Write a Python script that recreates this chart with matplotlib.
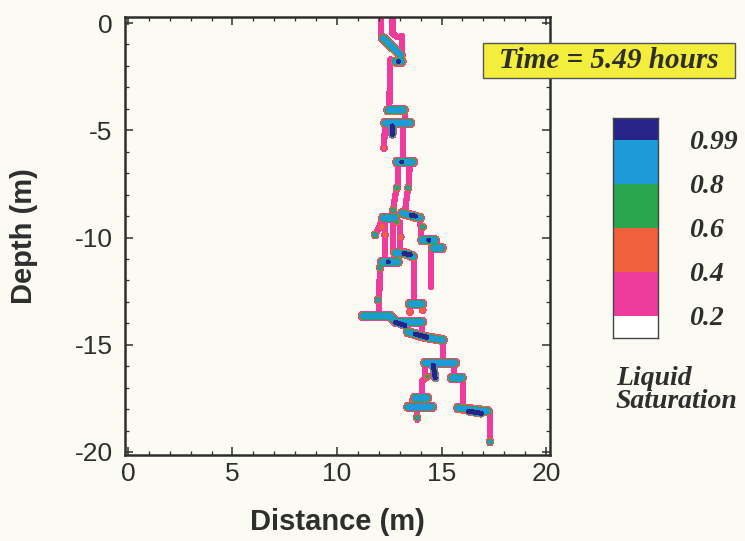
import numpy as np
import matplotlib
matplotlib.use('Agg')
import matplotlib.pyplot as plt
from matplotlib.patches import Rectangle
from matplotlib.ticker import MultipleLocator

plt.rcParams['axes.unicode_minus'] = False

# saturation classes (lower bounds) and their fill colours
levels = [0.2, 0.4, 0.6, 0.8, 0.99]
level_colors = ['#ee3c9c', '#ef613c', '#28a74f', '#1f9ad8', '#262489']
level_labels = ['0.2', '0.4', '0.6', '0.8', '0.99']
time_label = 'Time = 5.49 hours'

# finger centre lines (distance m, depth m), low saturation
finger_paths = [
    [(12.10, 0.30), (12.10, -0.70)],
    [(12.65, 0.30), (12.65, -0.50), (12.90, -0.65)],
    [(13.10, -0.60), (13.10, -1.90)],
    [(12.55, -1.70), (12.50, -4.06)],
    [(13.25, -4.06), (13.25, -4.50)],
    [(12.30, -4.70), (12.25, -5.75)],
    [(13.15, -4.70), (13.15, -6.45)],
    [(12.92, -6.50), (12.92, -7.65)],
    [(13.47, -6.50), (13.45, -7.65)],
    [(12.85, -7.70), (12.68, -8.72)],
    [(13.40, -7.70), (13.25, -8.80)],
    [(12.20, -9.10), (11.85, -9.85)],
    [(12.30, -9.10), (12.30, -11.10)],
    [(12.68, -9.30), (12.68, -10.70)],
    [(13.01, -9.30), (13.01, -10.60)],
    [(13.97, -9.09), (14.05, -10.10)],
    [(14.69, -10.12), (14.69, -10.49)],
    [(14.50, -10.58), (14.50, -12.31)],
    [(13.68, -10.80), (13.68, -13.10)],
    [(12.06, -11.10), (12.00, -13.66)],
    [(13.49, -13.10), (13.49, -13.45)],
    [(14.07, -13.10), (14.07, -13.40)],
    [(14.07, -13.94), (14.07, -14.40)],
    [(15.07, -14.78), (15.07, -15.71)],
    [(14.21, -15.90), (14.21, -16.60), (14.07, -16.70), (14.07, -17.44)],
    [(15.60, -15.90), (15.60, -16.50)],
    [(16.03, -16.60), (16.03, -17.85)],
    [(17.32, -18.10), (17.32, -19.44)],
    [(13.80, -17.50), (13.85, -18.50)],
]

# high-saturation lenses on layer boundaries
lens_paths = [
    [(12.20, -0.70), (13.05, -1.50)],
    [(12.80, -1.80), (13.10, -1.80)],
    [(12.45, -4.06), (13.20, -4.06)],
    [(12.30, -4.66), (13.50, -4.66)],
    [(12.87, -6.48), (13.64, -6.48)],
    [(13.11, -8.86), (13.97, -9.09)],
    [(12.20, -9.09), (12.78, -9.09)],
    [(14.07, -10.12), (14.69, -10.12)],
    [(14.59, -10.49), (15.02, -10.49)],
    [(12.78, -10.72), (13.35, -10.75), (13.64, -10.90)],
    [(12.15, -11.14), (12.92, -11.14)],
    [(13.49, -13.10), (14.07, -13.10)],
    [(11.24, -13.66), (12.55, -13.66), (12.80, -13.94), (14.07, -13.94)],
    [(13.40, -14.41), (14.21, -14.64), (15.07, -14.78)],
    [(14.21, -15.85), (15.65, -15.85)],
    [(15.50, -16.55), (15.98, -16.55)],
    [(15.79, -17.95), (17.22, -18.10)],
    [(13.73, -17.48), (14.31, -17.48)],
    [(13.40, -17.90), (14.55, -17.90)],
]

# fully saturated cores
core_paths = [
    [(12.95, -1.80)],
    [(12.65, -4.80), (12.65, -5.20)],
    [(13.10, -6.48)],
    [(13.55, -8.97), (13.75, -9.00)],
    [(14.40, -10.12)],
    [(13.20, -10.74), (13.50, -10.80)],
    [(12.45, -11.14)],
    [(12.80, -13.95), (13.25, -14.10)],
    [(13.75, -14.50), (14.30, -14.65)],
    [(14.60, -15.95), (14.70, -16.55)],
    [(16.30, -18.10), (16.90, -18.20)],
]

# small drops: x, y, peak saturation
blob_x = [12.87, 12.25, 12.87, 13.40, 12.68, 12.87, 11.82, 12.15, 12.30, 13.05,
          14.11, 12.06, 11.96, 13.49, 14.10, 14.31, 17.32, 13.83, 13.60]
blob_y = [-4.66, -5.83, -7.69, -7.69, -8.72, -9.28, -9.88, -9.51, -9.88, -9.98,
          -9.51, -11.42, -12.91, -13.47, -13.38, -16.50, -19.53, -18.41, -17.60]
blob_peak = [0.90, 0.50, 0.85, 0.85, 0.85, 0.75, 0.90, 0.60, 0.55, 0.55,
             0.85, 0.85, 0.90, 0.60, 0.60, 0.70, 0.90, 0.85, 0.50]


def path_dist(X, Y, path):
    pts = np.asarray(path, float)
    if len(pts) == 1:
        return np.hypot(X - pts[0, 0], Y - pts[0, 1])
    d = np.full(X.shape, np.inf)
    for (x0, y0), (x1, y1) in zip(pts[:-1], pts[1:]):
        dx, dy = x1 - x0, y1 - y0
        t = np.clip(((X - x0) * dx + (Y - y0) * dy) / (dx * dx + dy * dy), 0, 1)
        d = np.minimum(d, np.hypot(X - (x0 + t * dx), Y - (y0 + t * dy)))
    return d


def bump(d, peak, w):
    return peak * np.clip(1 - (d / w) ** 2, 0, None)


gx = np.arange(10.5, 18.5, 0.015)
gy = np.arange(-20.1, 0.3, 0.015)
X, Y = np.meshgrid(gx, gy)
S = np.zeros_like(X)
for p in finger_paths:
    S = np.maximum(S, bump(path_dist(X, Y, p), 0.36, 0.19))
for p in lens_paths:
    S = np.maximum(S, bump(path_dist(X, Y, p), 0.97, 0.24))
for p in core_paths:
    S = np.maximum(S, bump(path_dist(X, Y, p), 1.30, 0.19))
for bx, by, bp in zip(blob_x, blob_y, blob_peak):
    S = np.maximum(S, bump(np.hypot(X - bx, Y - by), bp, 0.20))

bg = '#fbfbf4'
ink = '#2e2e2e'
fig = plt.figure(figsize=(7.45, 5.41), dpi=100, facecolor=bg)
ax = fig.add_axes([125 / 745, 1 - 455 / 541, 425 / 745, 438 / 541], facecolor=bg)

ax.contourf(X, Y, S, levels=levels + [5.0], colors=level_colors)

ax.set_xlim(-0.14, 20.19)
ax.set_ylim(-20.14, 0.28)
ax.xaxis.set_major_locator(MultipleLocator(5))
ax.yaxis.set_major_locator(MultipleLocator(5))
ax.xaxis.set_minor_locator(MultipleLocator(1))
ax.yaxis.set_minor_locator(MultipleLocator(1))
ax.tick_params(which='both', direction='in', top=True, right=True, color=ink)
ax.tick_params(which='major', length=6, width=1.1, labelsize=19, labelcolor=ink)
ax.tick_params(which='minor', length=3, width=0.9)
ax.tick_params(axis='x', pad=5)
ax.tick_params(axis='y', pad=9)
for lab in ax.get_xticklabels() + ax.get_yticklabels():
    lab.set_family('Liberation Sans')
for sp in ax.spines.values():
    sp.set_color(ink)
    sp.set_linewidth(1.8)

ax.set_xlabel('Distance (m)', fontsize=21, fontweight='bold', color=ink,
              family='Liberation Sans', labelpad=16)
ax.set_ylabel('Depth (m)', fontsize=21, fontweight='bold', color=ink,
              family='Liberation Sans')
ax.yaxis.set_label_coords(-0.205, 0.5)

# legend bar
cax = fig.add_axes([613 / 745, 1 - 338 / 541, 45 / 745, 220 / 541])
edges = [0, 0.5, 1.5, 2.5, 3.5, 4.5, 5.0]
band_colors = ['white'] + level_colors
for lo, hi, c in zip(edges[:-1], edges[1:], band_colors):
    cax.bar(0.5, hi - lo, bottom=lo, width=1.0, color=c, edgecolor='none')
cax.set_xlim(0, 1)
cax.set_ylim(0, 5)
cax.set_xticks([])
cax.set_yticks([])
for sp in cax.spines.values():
    sp.set_color('#444444')
    sp.set_linewidth(1.0)
for e, t in zip(edges[1:-1], level_labels):
    cax.text(1.69, e - 0.06, t, transform=cax.get_yaxis_transform(),
             ha='left', va='center', fontsize=20, style='italic', fontweight='bold',
             family='Liberation Serif', color=ink)

fig.text(616 / 745, 1 - 390 / 541, 'Liquid\nSaturation', ha='left', va='center',
         fontsize=20, style='italic', fontweight='bold', family='Liberation Serif',
         color=ink, linespacing=0.85)

# time stamp box
fig.patches.append(Rectangle((483 / 745, 1 - 78 / 541), 252 / 745, 35 / 541,
                             transform=fig.transFigure, facecolor='#f3ee3c',
                             edgecolor='#555555', lw=1.0, zorder=5))
fig.text(609 / 745, 1 - 61 / 541, time_label, ha='center', va='center',
         fontsize=21, style='italic', fontweight='bold', family='Liberation Serif',
         color=ink, zorder=6)

fig.savefig('out.png', dpi=100, facecolor=bg)
